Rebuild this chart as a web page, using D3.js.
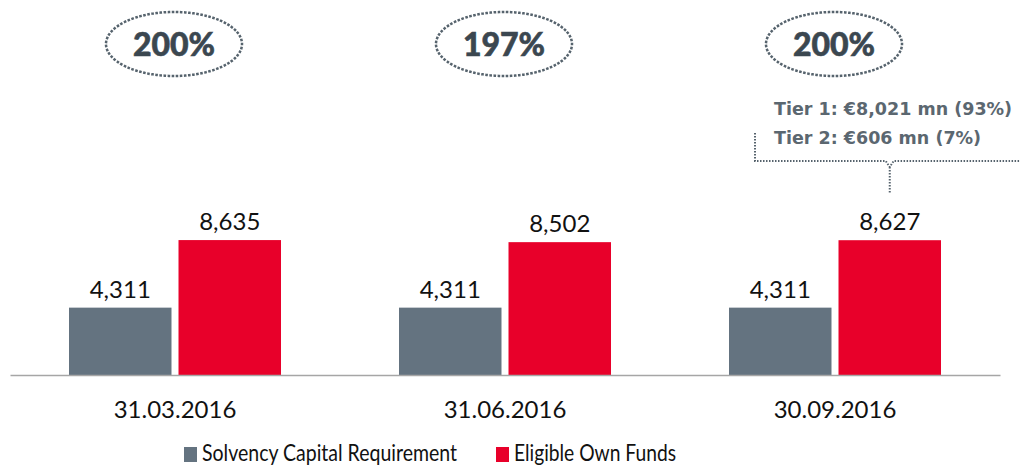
<!DOCTYPE html>
<html>
<head>
<meta charset="utf-8">
<script src="https://cdn.jsdelivr.net/npm/d3@7"></script>
<style>
  body { margin: 0; background: #fff; }
  svg { display: block; }
</style>
</head>
<body>
<div id="chart"></div>
<script>
const categories = ["31.03.2016", "31.06.2016", "30.09.2016"];
const seriesNames = ["Solvency Capital Requirement", "Eligible Own Funds"];
const scrValues = [4311, 4311, 4311];
const ownFundsValues = [8635, 8502, 8627];
const ratioLabels = ["200%", "197%", "200%"];
const tierNotes = ["Tier 1: €8,021 mn (93%)", "Tier 2: €606 mn (7%)"];

const width = 1020;
const height = 469;
const baseY = 375;
const colors = ["#647380", "#e8002a"];
const fmt = d3.format(",d");

const rows = categories.map((c, i) => ({
  cat: c,
  ratio: ratioLabels[i],
  values: [scrValues[i], ownFundsValues[i]].map((v, j) => ({ key: seriesNames[j], value: v, j }))
}));

const svg = d3.select("#chart").append("svg")
  .attr("width", width)
  .attr("height", height)
  .attr("viewBox", [0, 0, width, height]);

const x0 = d3.scaleBand()
  .domain(categories)
  .range([10, 1000])
  .paddingInner(0.3576)
  .paddingOuter(0.1788);

const x1 = d3.scaleBand()
  .domain(seriesNames)
  .range([0, x0.bandwidth()])
  .paddingInner(0.064);

const y = d3.scaleLinear().domain([0, 24000]).range([baseY, 0]);

// bars
const groups = svg.append("g").selectAll("g")
  .data(rows)
  .join("g")
  .attr("transform", d => `translate(${x0(d.cat)},0)`);

groups.selectAll("rect")
  .data(d => d.values)
  .join("rect")
  .attr("x", d => x1(d.key))
  .attr("y", d => y(d.value))
  .attr("width", x1.bandwidth())
  .attr("height", d => y(0) - y(d.value))
  .attr("fill", d => colors[d.j]);

groups.selectAll("text.val")
  .data(d => d.values)
  .join("text")
  .attr("class", "val")
  .attr("x", d => x1(d.key) + x1.bandwidth() / 2)
  .attr("y", d => y(d.value) - 10)
  .attr("text-anchor", "middle")
  .style("font", "24px Lato")
  .attr("fill", "#111")
  .text(d => fmt(d.value));

// baseline axis
const xAxis = svg.append("g")
  .attr("transform", `translate(0,${baseY})`)
  .call(d3.axisBottom(x0).tickSize(0).tickPadding(26));
xAxis.select(".domain").attr("stroke", "#a6a6a6").attr("stroke-width", 1.5);
xAxis.selectAll(".tick text")
  .style("font", "24px Lato")
  .attr("fill", "#111");

// ratio ellipses
const ratioG = svg.append("g").selectAll("g")
  .data(rows)
  .join("g")
  .attr("transform", d => `translate(${x0(d.cat) + x0.bandwidth() / 2 - 1},44)`);

ratioG.append("ellipse")
  .attr("rx", 68)
  .attr("ry", 32)
  .attr("fill", "none")
  .attr("stroke", "#56636d")
  .attr("stroke-width", 2.5)
  .attr("stroke-dasharray", "0.1 4")
  .attr("stroke-linecap", "square");

ratioG.append("text")
  .attr("text-anchor", "middle")
  .attr("dy", "0.36em")
  .style("font", "900 32px Lato")
  .attr("fill", "#3b4750")
  .attr("stroke", "#3b4750")
  .attr("stroke-width", 0.6)
  .text(d => d.ratio);

// tier annotation
const last = categories[categories.length - 1];
const redX = x0(last) + x1(seriesNames[1]) + x1.bandwidth() / 2;
const note = svg.append("g");
note.selectAll("text")
  .data(tierNotes)
  .join("text")
  .attr("x", 774)
  .attr("y", (d, i) => 115 + i * 29)
  .style("font", "bold 17.5px 'DejaVu Sans'")
  .attr("fill", "#5b6770")
  .text(d => d);

const bracketY = 161;
note.append("path")
  .attr("d", `M755,133 V${bracketY} H${redX - 4} L${redX},${bracketY + 6} L${redX + 4},${bracketY} H1022 M${redX},${bracketY + 6} V${y(ownFundsValues[2]) - 47}`)
  .attr("fill", "none")
  .attr("stroke", "#56636d")
  .attr("stroke-width", 2)
  .attr("stroke-dasharray", "1.5 1.5");

// legend
const legendWidths = [255, 162];
const legend = svg.append("g").selectAll("g")
  .data(seriesNames)
  .join("g")
  .attr("transform", (d, i) => `translate(${[184, 496][i]},447)`);
legend.append("rect")
  .attr("width", 13)
  .attr("height", 15)
  .attr("fill", (d, i) => colors[i]);
legend.append("text")
  .attr("x", 18)
  .attr("y", 14)
  .style("font", "23px Lato")
  .attr("fill", "#111")
  .attr("textLength", (d, i) => legendWidths[i])
  .attr("lengthAdjust", "spacingAndGlyphs")
  .text(d => d);
</script>
</body>
</html>
